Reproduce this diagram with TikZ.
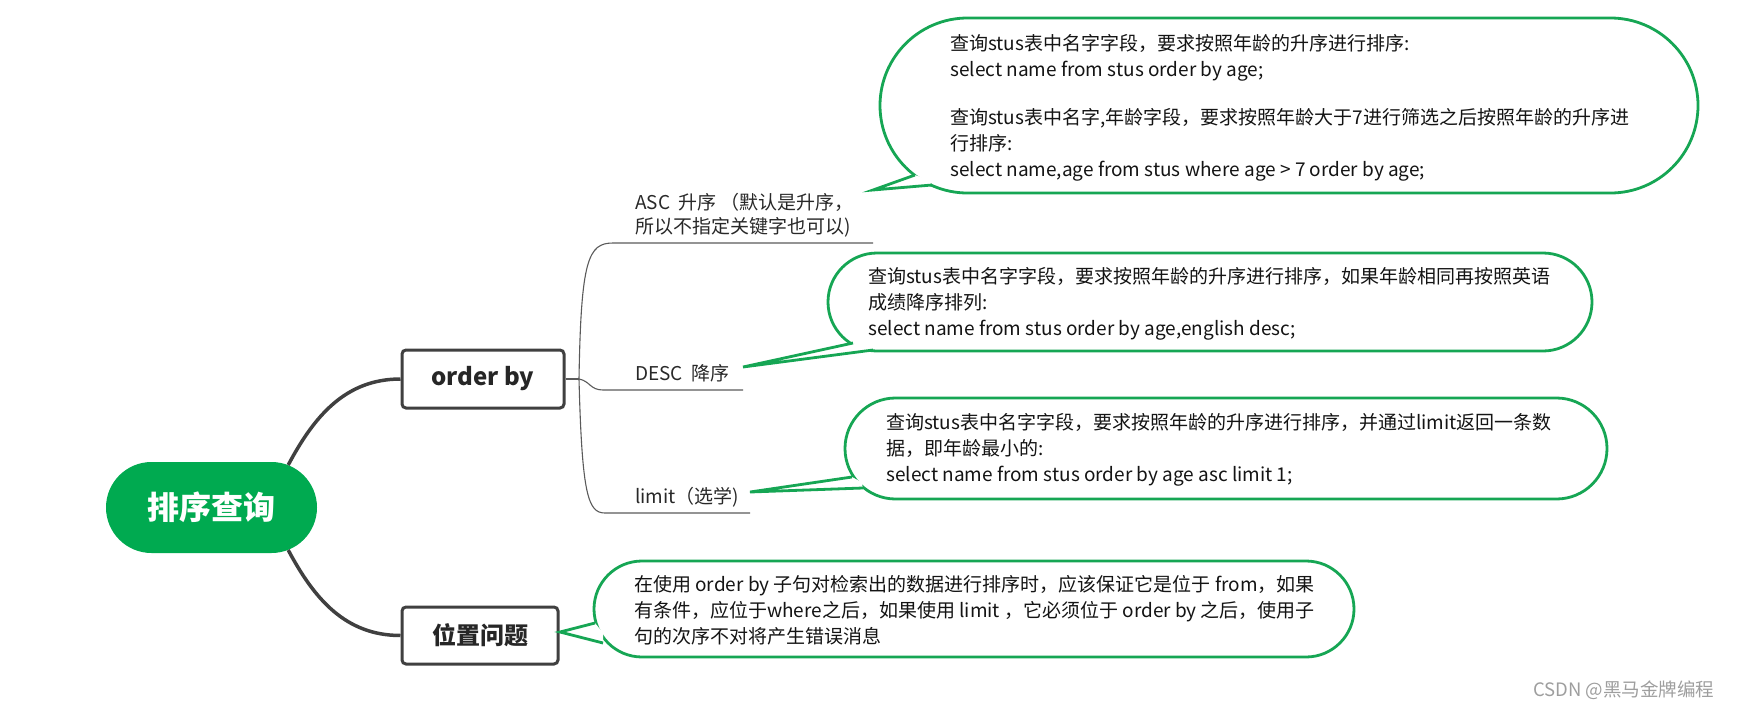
\documentclass[tikz,border=0pt]{standalone}
\usepackage{fontspec}
\setmainfont{Noto Sans CJK SC}
\usetikzlibrary{shapes.misc,calc}
\definecolor{cgreen}{RGB}{22,166,84}
\definecolor{pgreen}{RGB}{0,170,80}
\definecolor{dgray}{RGB}{64,64,64}
\definecolor{lgray}{RGB}{90,90,90}
\definecolor{ltext}{RGB}{40,40,40}
\begin{document}
\begin{tikzpicture}[x=1pt,y=1pt,
  callbox/.style={rounded rectangle, draw=cgreen, line width=2.8pt, fill=white, inner sep=0pt},
  ctext/.style={anchor=west, align=left, inner sep=0pt, font=\fontsize{19}{26}\selectfont, text=black!92},
  tailline/.style={draw=cgreen, line width=2.8pt},
  topic/.style={draw=dgray, line width=3pt, rounded corners=4pt, fill=white, inner sep=0pt, font=\fontsize{24}{28}\selectfont\bfseries, text=black!85},
  mainline/.style={draw=dgray, line width=3.5pt},
  subline/.style={draw=lgray, line width=1.1pt},
  blabel/.style={anchor=west, align=left, inner sep=0pt, font=\fontsize{19}{24}\selectfont, text=ltext}
]
\useasboundingbox (0,0) rectangle (1738,-710);

% root and topics
\node[rounded rectangle, fill=pgreen, minimum width=211pt, minimum height=91pt, inner sep=0pt,
      font=\fontsize{32}{36}\selectfont\bfseries, text=white] (root) at (211.5,-507.5) {排序查询};
\node[topic, minimum width=162pt, minimum height=58pt] (ob) at (483,-379) {order by};
\node[topic, minimum width=156pt, minimum height=57pt] (pos) at (480,-635.5) {位置问题};

\draw[mainline] (root.29) to[out=62,in=180] (ob.west);
\draw[mainline] (root.-29) to[out=-62,in=180] (pos.west);

% sub branches
\coordinate (fork) at (579,-379);
\coordinate (ascL) at (613,-243);
\coordinate (ascR) at (873,-243);
\coordinate (descL) at (603,-390);
\coordinate (descR) at (743,-390);
\coordinate (limL) at (605,-513);
\coordinate (limR) at (750,-513);

\node[blabel] (asc) at (635,-215) {ASC\ \ 升序 （默认是升序，\\所以不指定关键字也可以)};
\node[blabel] (desc) at (635,-373) {DESC\ \ 降序};
\node[blabel] (lim) at (635,-497) {limit（选学)};

\draw[subline] (ob.east) -- (fork);
\draw[subline] (fork) .. controls (581,-260) and (588,-243) .. (ascL) -- (ascR);
\draw[subline] (fork) .. controls (590,-381) and (590,-390) .. (descL) -- (descR);
\draw[subline] (fork) .. controls (582,-495) and (588,-513) .. (limL) -- (limR);

% callout boxes
\node[callbox, minimum width=818pt, minimum height=175pt] (c1) at (1289,-105.5) {};
\node[callbox, minimum width=764pt, minimum height=98pt] (c2) at (1210,-302) {};
\node[callbox, minimum width=762pt, minimum height=101pt] (c3) at (1226,-448.5) {};
\node[callbox, minimum width=760pt, minimum height=96pt] (c4) at (974,-609) {};

% tails
\coordinate (c1b1) at (915,-175); \coordinate (c1tip) at (873,-190); \coordinate (c1b2) at (932,-185);
\coordinate (c2b1) at (853,-343); \coordinate (c2tip) at (743,-367); \coordinate (c2b2) at (873,-350);
\coordinate (c3b1) at (852,-477); \coordinate (c3tip) at (750,-492); \coordinate (c3b2) at (863,-488);
\coordinate (c4b1) at (595,-623); \coordinate (c4tip) at (560,-632); \coordinate (c4b2) at (603,-643);
\foreach \c in {c1,c2,c3,c4}{
  \fill[white] (\c b1) -- (\c tip) -- (\c b2) -- ($(\c b1)!0.5!(\c b2)!4pt!(\c.center)$) -- cycle;
  \draw[tailline] (\c b1) -- (\c tip) -- (\c b2);
}

% callout texts
\node[ctext] (t1) at (950,-108) {查询stus表中名字字段，要求按照年龄的升序进行排序:\\
select name from stus order by age;\\[22pt]
查询stus表中名字,年龄字段，要求按照年龄大于7进行筛选之后按照年龄的升序进\\
行排序:\\
select name,age from stus where age > 7 order by age;};
\node[ctext] (t2) at (868,-303.5) {查询stus表中名字字段，要求按照年龄的升序进行排序，如果年龄相同再按照英语\\
成绩降序排列:\\
select name from stus order by age,english desc;};
\node[ctext] (t3) at (886,-450) {查询stus表中名字字段，要求按照年龄的升序进行排序，并通过limit返回一条数\\
据，即年龄最小的:\\
select name from stus order by age asc limit 1;};
\node[ctext] (t4) at (634,-610.5) {在使用 order by 子句对检索出的数据进行排序时，应该保证它是位于 from，如果\\
有条件，应位于where之后，如果使用 limit ，它必须位于 order by 之后，使用子\\
句的次序不对将产生错误消息};

% watermark
\node[anchor=west, inner sep=0pt, font=\fontsize{18.5}{22}\selectfont, text=black!38] (wm) at (1533,-690) {CSDN @黑马金牌编程};
\end{tikzpicture}
\end{document}
